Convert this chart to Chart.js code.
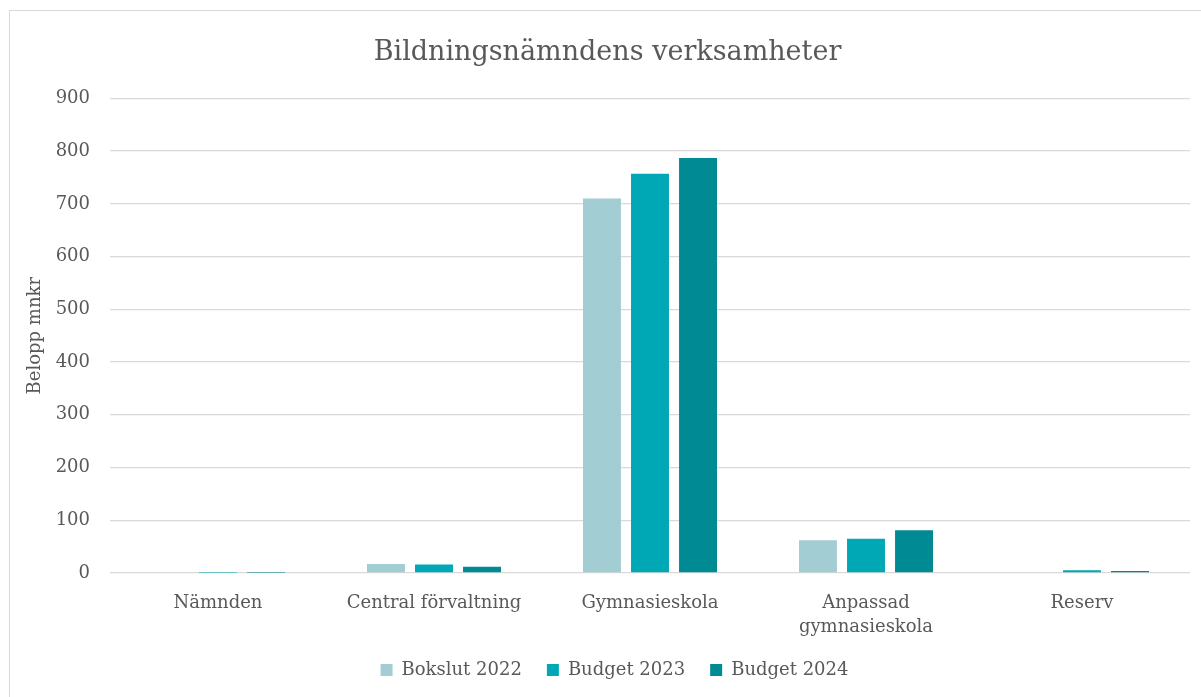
<!DOCTYPE html>
<html>
<head>
<meta charset="utf-8">
<script src="https://cdn.jsdelivr.net/npm/chart.js@4"></script>
<style>
  html, body { margin: 0; padding: 0; background: #fff; }
  #frame { position: absolute; left: 9px; top: 10px; width: 1200px; height: 700px; border: 1px solid #d9d9d9; }
  #wrap { position: absolute; left: 0; top: 0; width: 1201px; height: 697px; }
</style>
</head>
<body>
<div id="frame"></div>
<div id="wrap"><canvas id="Chart"></canvas></div>
<script>
/* Data */
const categories = ['Nämnden', 'Central förvaltning', 'Gymnasieskola', ['Anpassad', 'gymnasieskola'], 'Reserv'];
const bokslut2022 = [0, 17, 710, 62, 0];
const budget2023 = [0.5, 16, 757, 65, 5];
const budget2024 = [0.4, 12, 787, 81, 4];
const yTicks = [0, 100, 200, 300, 400, 500, 600, 700, 800, 900];

const textColor = '#595959';
const fontFamily = '"DejaVu Serif", serif';

Chart.defaults.font.family = fontFamily;
Chart.defaults.color = textColor;

/* nudge the legend a bit to the right, like the original */
const legendShift = {
    id: 'legendShift',
    afterLayout: function (chart) {
        chart.legend.left += 7;
        chart.legend.right += 7;
    }
};

function makeChart() {
    const ctx = document.getElementById('Chart').getContext('2d');
    return new Chart(ctx, {
        type: 'bar',
        data: {
            labels: categories,
            datasets: [{
                label: 'Bokslut 2022',
                data: bokslut2022,
                backgroundColor: '#a2cdd3'
            }, {
                label: 'Budget 2023',
                data: budget2023,
                backgroundColor: '#00a8b5'
            }, {
                label: 'Budget 2024',
                data: budget2024,
                backgroundColor: '#008a93'
            }]
        },
        plugins: [legendShift],
        options: {
            responsive: true,
            maintainAspectRatio: false,
            animation: false,
            datasets: {
                bar: { categoryPercentage: 0.667, barPercentage: 0.79 }
            },
            layout: { padding: { top: 0, right: 11, bottom: 8, left: 25 } },
            plugins: {
                tooltip: { enabled: false },
                title: {
                    display: true,
                    text: 'Bildningsnämndens verksamheter',
                    color: textColor,
                    font: { size: 27, weight: 'normal' },
                    padding: { top: 37, bottom: 29 }
                },
                legend: {
                    position: 'bottom',
                    labels: {
                        boxWidth: 12,
                        boxHeight: 12,
                        padding: 25,
                        color: textColor,
                        font: { size: 18 }
                    }
                }
            },
            scales: {
                x: {
                    grid: { display: false },
                    border: { display: false },
                    ticks: {
                        color: textColor,
                        font: { size: 18, lineHeight: 1.3 },
                        padding: 11,
                        maxRotation: 0,
                        autoSkip: false
                    },
                    afterFit: function (scale) { scale.height = 63; }
                },
                y: {
                    min: 0,
                    max: 900,
                    afterBuildTicks: function (scale) {
                        scale.ticks = yTicks.map(v => ({ value: v }));
                    },
                    grid: { color: '#d9d9d9', lineWidth: 1.3, drawTicks: false },
                    border: { display: false },
                    ticks: {
                        color: textColor,
                        font: { size: 18 },
                        padding: 20
                    },
                    title: {
                        display: true,
                        text: 'Belopp mnkr',
                        color: textColor,
                        font: { size: 18 },
                        padding: { top: 0, bottom: 0 }
                    },
                    afterFit: function (scale) { scale.width = 85; }
                }
            }
        }
    });
}

myChart = makeChart();
</script>
</body>
</html>
